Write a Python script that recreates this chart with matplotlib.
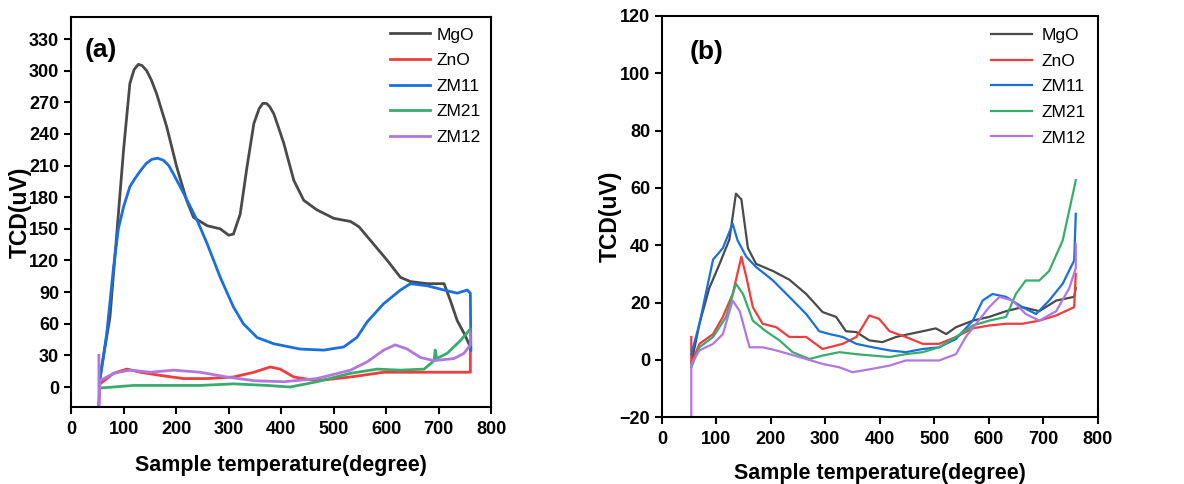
import matplotlib.pyplot as plt

plt.rcParams['font.family'] = ['Liberation Sans', 'DejaVu Sans']

# colours (Origin default palette)
c_mgo = '#4a4a4a'
c_zno = '#f03c3c'
c_zm11 = '#1a6fdf'
c_zm21 = '#37ad6b'
c_zm12 = '#b177de'

# ---------- panel (a) ----------
a_mgo_x = [55, 74, 87, 100, 107, 112, 120, 128, 135, 144, 153, 163, 182, 201, 220, 233, 259, 284, 300, 309,
           322, 335, 348, 358, 365, 372, 378, 386, 395, 405, 424, 443, 468, 500, 532, 548, 570, 602, 627, 646,
           678, 710, 722, 735, 748, 760]
a_mgo_y = [9.5, 66, 145, 225, 262, 288, 301, 306, 305, 300, 291, 278, 247, 209, 177, 161, 153, 150, 144, 145,
           164, 209, 250, 264, 269, 269, 266, 259, 246, 231, 196, 177, 168, 160, 157, 152, 139, 120, 104, 100,
           98, 98, 82, 63, 51, 38]

a_zno_x = [55, 81, 106, 132, 170, 214, 259, 309, 348, 379, 398, 424, 468, 532, 595, 659, 722, 760, 760]
a_zno_y = [3, 13, 17, 14, 11, 8, 8, 9.5, 14, 19, 17, 9.5, 6, 9.5, 14, 14, 14, 14, 35]

a_zm11_x = [55, 68, 81, 90, 100, 112, 122, 132, 143, 154, 165, 176, 186, 195, 214, 240, 259, 284, 309, 328,
            354, 386, 436, 481, 519, 544, 564, 595, 627, 646, 678, 710, 735, 754, 760, 761]
a_zm11_y = [6, 51, 114, 150, 171, 190, 198, 205, 212, 216, 217, 215, 210, 202, 184, 158, 136, 104, 76, 60,
            47, 41, 36, 35, 38, 47, 62, 79, 92, 98, 96, 92, 89, 92, 89, 35]

a_zm21_x = [55, 119, 182, 246, 309, 373, 417, 468, 532, 583, 627, 672, 691, 693, 696, 716, 741, 760]
a_zm21_y = [-1, 1.5, 1.5, 1.5, 3, 1.5, 0, 5, 13, 17, 16, 17, 25, 35, 27, 32, 44, 55]

a_zm12_x = [53, 53, 55, 81, 112, 151, 195, 246, 297, 348, 405, 468, 532, 564, 595, 617, 640, 665, 691, 729,
            748, 760, 760]
a_zm12_y = [30, -19, 6, 13, 16, 14, 16, 14, 9.5, 6, 5, 8, 16, 24, 35, 40, 36, 28, 25, 27,
            32, 40, 52]

# ---------- panel (b) ----------
b_mgo_x = [54, 69, 87, 106, 124, 136, 146, 158, 173, 204, 234, 265, 295, 320, 338, 357, 381, 405, 430, 454,
           479, 503, 522, 540, 571, 601, 632, 662, 693, 724, 757, 760]
b_mgo_y = [-1.4, 12.6, 25, 33.5, 42, 58, 56, 39, 33.5, 31, 28, 23, 16.7, 15, 10, 9.7, 6.8, 6.2, 8, 9,
           10, 11, 9, 11.4, 13.7, 15, 17, 18.4, 17, 20.7, 22, 25]

b_zno_x = [54, 54, 69, 94, 112, 130, 146, 155, 167, 185, 210, 234, 265, 295, 332, 357, 381, 399, 418, 448,
           479, 509, 540, 571, 601, 632, 662, 693, 724, 757, 760]
b_zno_y = [8, -1.4, 5.6, 9, 15, 23, 36, 29, 18.4, 12.6, 11.4, 8, 8, 3.8, 5.6, 8, 15.5, 14.3, 10, 8,
           5.6, 5.6, 8, 11, 12, 12.6, 12.6, 13.7, 15.5, 18.4, 30]

b_zm11_x = [54, 69, 94, 112, 130, 139, 155, 173, 204, 234, 265, 289, 308, 332, 357, 387, 418, 448, 479, 509,
            540, 571, 589, 607, 632, 662, 687, 711, 736, 757, 760]
b_zm11_y = [2, 12.6, 35, 39, 47.5, 41.7, 36, 32.4, 27.7, 22, 16, 10, 9, 8, 5.6, 4.4, 3.3, 2.7, 3.8, 4.4,
            7.3, 13.7, 20.7, 23, 22, 18.4, 16, 20.7, 26.6, 34.7, 51]

b_zm21_x = [54, 69, 94, 118, 136, 149, 167, 191, 216, 240, 271, 295, 326, 357, 387, 418, 448, 479, 509, 540,
            571, 601, 632, 650, 668, 693, 711, 736, 757, 760]
b_zm21_y = [-2.6, 4.4, 8, 15, 26.6, 23, 13.7, 10, 6.8, 2.7, 0.3, 1.5, 2.7, 2, 1.5, 1, 2, 2.7, 4.4, 8,
            12, 13.7, 15, 23, 27.7, 27.7, 31, 41.7, 60, 62.7]

b_zm12_x = [54, 54, 69, 94, 112, 130, 143, 161, 185, 210, 234, 265, 295, 326, 350, 387, 418, 448, 479, 509,
            540, 558, 577, 601, 620, 644, 668, 693, 724, 748, 760, 760]
b_zm12_y = [-20, -1.4, 3.3, 5.6, 9, 20.7, 17, 4.4, 4.4, 3.3, 2, 0.3, -1.4, -2.6, -4.3, -3.1, -2, -0.2, -0.2, -0.2,
            2, 8, 12.6, 18.4, 22, 20.7, 16, 13.7, 17, 25, 32, 40.5]

labels = ['MgO', 'ZnO', 'ZM11', 'ZM21', 'ZM12']
colors = [c_mgo, c_zno, c_zm11, c_zm21, c_zm12]


def style_axes(ax, xpad):
    for s in ax.spines.values():
        s.set_linewidth(1.5)
    ax.tick_params(direction='out', length=5, width=1.5, labelsize=13)
    ax.tick_params(axis='x', pad=5)
    for t in ax.get_xticklabels() + ax.get_yticklabels():
        t.set_fontweight('bold')
    ax.set_xlabel('Sample temperature(degree)', fontsize=15.5, fontweight='bold', labelpad=xpad)
    ax.set_ylabel('TCD(uV)', fontsize=16.5, fontweight='bold', labelpad=-2)


fig = plt.figure(figsize=(11.84, 4.84), dpi=100)

ax1 = fig.add_axes([0.060, 0.159, 0.355, 0.806])
series_a = [(a_mgo_x, a_mgo_y), (a_zno_x, a_zno_y), (a_zm11_x, a_zm11_y), (a_zm21_x, a_zm21_y), (a_zm12_x, a_zm12_y)]
for (xs, ys), lab, col in zip(series_a, labels, colors):
    ax1.plot(xs, ys, color=col, lw=2.0, label=lab)
ax1.set_xlim(0, 800)
ax1.set_ylim(-19, 351)
ax1.set_xticks(range(0, 801, 100))
ax1.set_yticks(range(0, 331, 30))
style_axes(ax1, 12)
ax1.text(0.033, 0.915, '(a)', transform=ax1.transAxes, fontsize=19, fontweight='bold', va='center')
ax1.legend(loc='upper right', frameon=False, fontsize=12.5, handlelength=2.3, labelspacing=0.6,
           handletextpad=0.4, borderaxespad=0.2)

ax2 = fig.add_axes([0.559, 0.138, 0.368, 0.829])
series_b = [(b_mgo_x, b_mgo_y), (b_zno_x, b_zno_y), (b_zm11_x, b_zm11_y), (b_zm21_x, b_zm21_y), (b_zm12_x, b_zm12_y)]
for (xs, ys), lab, col in zip(series_b, labels, colors):
    ax2.plot(xs, ys, color=col, lw=1.6, label=lab)
ax2.set_xlim(0, 800)
ax2.set_ylim(-20, 120)
ax2.set_xticks(range(0, 801, 100))
ax2.set_yticks(range(-20, 121, 20))
style_axes(ax2, 11)
ax2.text(0.064, 0.91, '(b)', transform=ax2.transAxes, fontsize=19, fontweight='bold', va='center')
ax2.legend(loc='upper right', frameon=False, fontsize=12.5, handlelength=2.4, labelspacing=0.6,
           handletextpad=0.5, borderaxespad=0.3)

fig.savefig('out.png', dpi=100)
